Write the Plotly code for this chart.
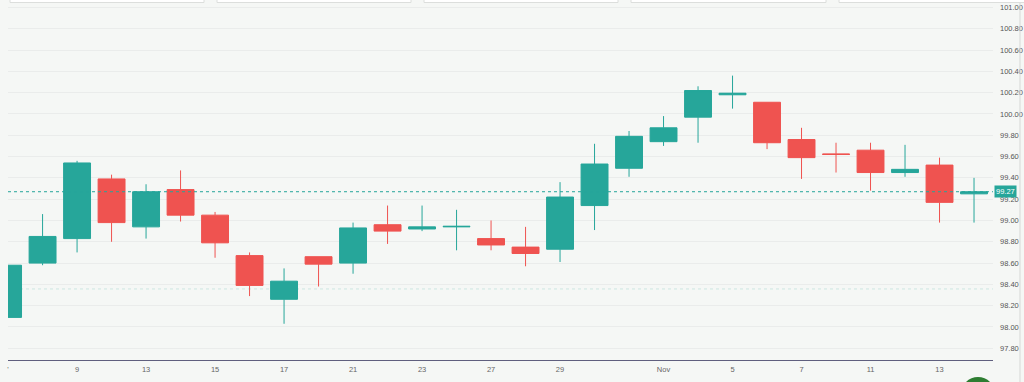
import plotly.graph_objects as go

# ---- data ----
idx = list(range(29))
opens  = [98.09, 98.60, 98.83, 99.39, 98.94, 99.29, 99.05, 98.67, 98.26, 98.66,
          98.60, 98.96, 98.92, 98.94, 98.83, 98.75, 98.73, 99.14, 99.49, 99.74,
          99.97, 100.18, 100.11, 99.76, 99.625, 99.66, 99.45, 99.52, 99.25]
highs  = [98.58, 99.06, 99.56, 99.43, 99.34, 99.47, 99.08, 98.70, 98.55, 98.66,
          98.98, 99.14, 99.14, 99.10, 99.00, 98.94, 99.36, 99.72, 99.84, 99.98,
          100.26, 100.36, 100.11, 99.87, 99.73, 99.73, 99.71, 99.59, 99.40]
lows   = [98.09, 98.58, 98.70, 98.80, 98.83, 98.99, 98.65, 98.29, 98.03, 98.38,
          98.50, 98.78, 98.90, 98.72, 98.72, 98.57, 98.61, 98.91, 99.41, 99.70,
          99.73, 100.05, 99.67, 99.39, 99.45, 99.28, 99.41, 98.98, 98.98]
closes = [98.58, 98.85, 99.54, 98.98, 99.27, 99.05, 98.79, 98.39, 98.43, 98.59,
          98.93, 98.90, 98.94, 98.945, 98.77, 98.69, 99.22, 99.53, 99.79, 99.87,
          100.22, 100.195, 99.73, 99.59, 99.62, 99.45, 99.48, 99.17, 99.27]
tick_pos = [0, 2, 4, 6, 8, 10, 12, 14, 16, 19, 21, 23, 25, 27]
tick_txt = ["'", "9", "13", "15", "17", "21", "23", "27", "29", "Nov", "5", "7", "11", "13"]
y_ticks = [97.8 + 0.2 * k for k in range(17)]
last_price = 99.27
level_line = 98.357

UP = "#26a69a"
DOWN = "#ef5350"
BG = "#f5f7f5"

fig = go.Figure()
fig.add_trace(go.Candlestick(
    x=idx, open=opens, high=highs, low=lows, close=closes,
    increasing=dict(line=dict(color=UP, width=1), fillcolor=UP),
    decreasing=dict(line=dict(color=DOWN, width=1), fillcolor=DOWN),
    whiskerwidth=0, showlegend=False, hoverinfo="skip",
))

shapes = []
shapes.append(dict(type="line", xref="paper", x0=0, x1=1, yref="y", y0=last_price, y1=last_price,
                   line=dict(color=UP, width=1, dash="dot")))
shapes.append(dict(type="line", xref="paper", x0=0, x1=1, yref="y", y0=level_line, y1=level_line,
                   line=dict(color="#cde6e2", width=1, dash="dot"), layer="below"))
shapes.append(dict(type="line", xref="paper", x0=1.0274, x1=1.0274, yref="paper", y0=-0.07, y1=1,
                   line=dict(color="#d6d8d6", width=1)))
for a, b in [(10, 204), (217, 411), (424, 618), (631, 826), (839, 1034)]:
    shapes.append(dict(type="rect", xref="paper", yref="paper",
                       x0=(a - 8) / 985, x1=(b - 8) / 985, y0=1 - 2.5 / 360, y1=1.02,
                       line=dict(color="#dcdedc", width=1), fillcolor="#ffffff", layer="above"))
shapes.append(dict(type="circle", xref="paper", yref="paper",
                   x0=(961 - 8) / 985, x1=(995 - 8) / 985, y0=(360 - 411) / 360, y1=(360 - 377) / 360,
                   line=dict(width=0), fillcolor="#2e7d32", layer="above"))

fig.update_layout(
    width=1024, height=382,
    margin=dict(l=8, r=31, t=0, b=22, autoexpand=False),
    paper_bgcolor=BG, plot_bgcolor=BG,
    font=dict(family="Liberation Sans, Arial, sans-serif", size=8, color="#555"),
    shapes=shapes,
    boxgap=0.22, boxgroupgap=0,
    annotations=[dict(xref="paper", x=1.0, xanchor="left", yref="y", y=last_price,
                      text="99.27", showarrow=False, bgcolor=UP,
                      font=dict(color="white", size=7.5, family="Liberation Sans, Arial, sans-serif"),
                      borderpad=1, xshift=1)],
)
fig.update_xaxes(
    type="linear", range=[-0.002, 28.55],
    rangeslider=dict(visible=False),
    showgrid=False, zeroline=False,
    showline=True, linecolor="#5f5f7e", linewidth=1,
    tickmode="array", tickvals=tick_pos, ticktext=tick_txt,
    tickfont=dict(size=7.5, color="#666"), ticks="", ticklabelstandoff=2,
)
fig.update_yaxes(
    side="right", range=[97.690, 101.070],
    tickmode="array", tickvals=y_ticks, ticktext=[f"{v:.2f}" for v in y_ticks],
    showgrid=True, gridcolor="#eaeceb", gridwidth=1, zeroline=False,
    showline=False, ticks="", ticklabelstandoff=6,
    tickfont=dict(size=7.5, color="#555"),
)

fig.write_html("out.html", config={"displayModeBar": False},
               post_script="document.body.style.margin='0';document.body.style.overflow='hidden';")
